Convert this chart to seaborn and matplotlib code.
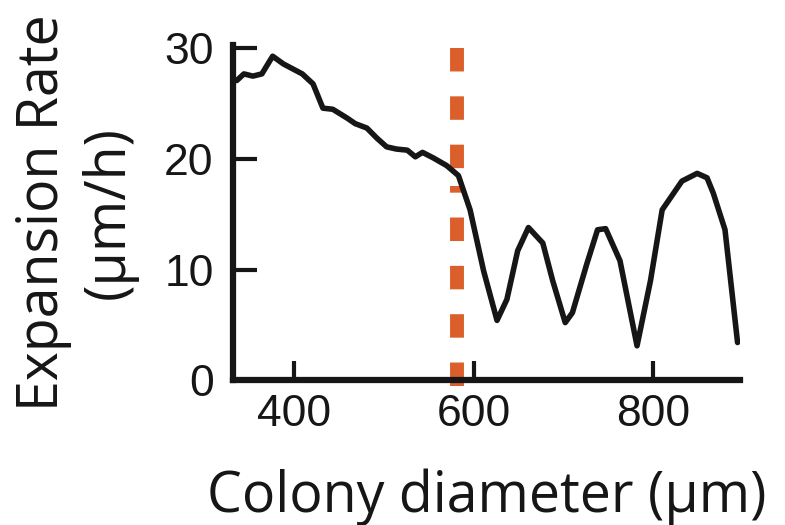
import numpy as np
import pandas as pd
import matplotlib as mpl
mpl.use("Agg")
import matplotlib.pyplot as plt
import seaborn as sns

sns.set_style("ticks")
plt.rcParams['font.family'] = ['Open Sans', 'DejaVu Sans']

# colony diameter (um) and expansion rate (um/h)
diameter = [336, 344, 354, 364, 376, 388, 409, 421, 432, 443, 459, 468, 481, 492,
            503, 514, 526, 535, 543, 555, 570, 583, 596, 611, 626, 637, 649, 661,
            677, 688, 702, 710, 726, 738, 747, 763, 782, 797, 810, 832, 849, 860,
            867, 880, 894]
rate = [27.1, 27.7, 27.5, 27.7, 29.3, 28.6, 27.7, 26.8, 24.6, 24.5, 23.7, 23.2,
        22.8, 21.9, 21.1, 20.9, 20.8, 20.2, 20.6, 20.1, 19.4, 18.5, 15.4, 9.9,
        5.4, 7.3, 11.7, 13.8, 12.4, 9.0, 5.2, 6.1, 10.5, 13.6, 13.7, 10.8, 3.1,
        9.0, 15.4, 18.0, 18.7, 18.3, 16.9, 13.6, 3.4]
# vertical marker at the critical diameter, drawn as two dashed pieces
threshold = 581
lower_piece = (-0.55, 17.6)   # dashes start from the bottom
upper_piece = (30.0, 19.14)   # dashes start from the top

df = pd.DataFrame({"diameter": diameter, "rate": rate})

ink = "#161616"
orange = "#DA5F2A"

fig = plt.figure(figsize=(7.85, 5.25), dpi=100)
ax = fig.add_axes([0.297, 0.276, 0.646, 0.638])

for piece in (lower_piece, upper_piece):
    ax.plot([threshold, threshold], piece, color=orange, lw=10,
            dashes=(1.69, 1.79), dash_capstyle="butt", zorder=1, clip_on=False)
sns.lineplot(data=df, x="diameter", y="rate", color=ink,
             estimator=None, ax=ax, zorder=2)
ax.lines[-1].set_linewidth(4)
ax.lines[-1].set_solid_joinstyle("round")

ax.set_xlim(332, 897)
ax.set_ylim(0, 30.3)
ax.set_xticks([400, 600, 800])
ax.set_yticks([0, 10, 20, 30])
sns.despine(ax=ax)
for s in ["left", "bottom"]:
    ax.spines[s].set_linewidth(4.5)
    ax.spines[s].set_color(ink)
    ax.spines[s].set_capstyle("projecting")
ax.tick_params(direction="in", width=3, color=ink, labelsize=32,
               labelcolor=ink, labelfontfamily="Liberation Sans")
ax.tick_params(axis="y", length=17, pad=14)
ax.tick_params(axis="x", length=14, pad=10)

ax.set_xlabel("Colony diameter (µm)", fontsize=40, color=ink, labelpad=24)
ax.set_ylabel("Expansion Rate\n(µm/h)", fontsize=40, color=ink,
              labelpad=19, linespacing=1.2)

fig.savefig("out.png", dpi=100)
